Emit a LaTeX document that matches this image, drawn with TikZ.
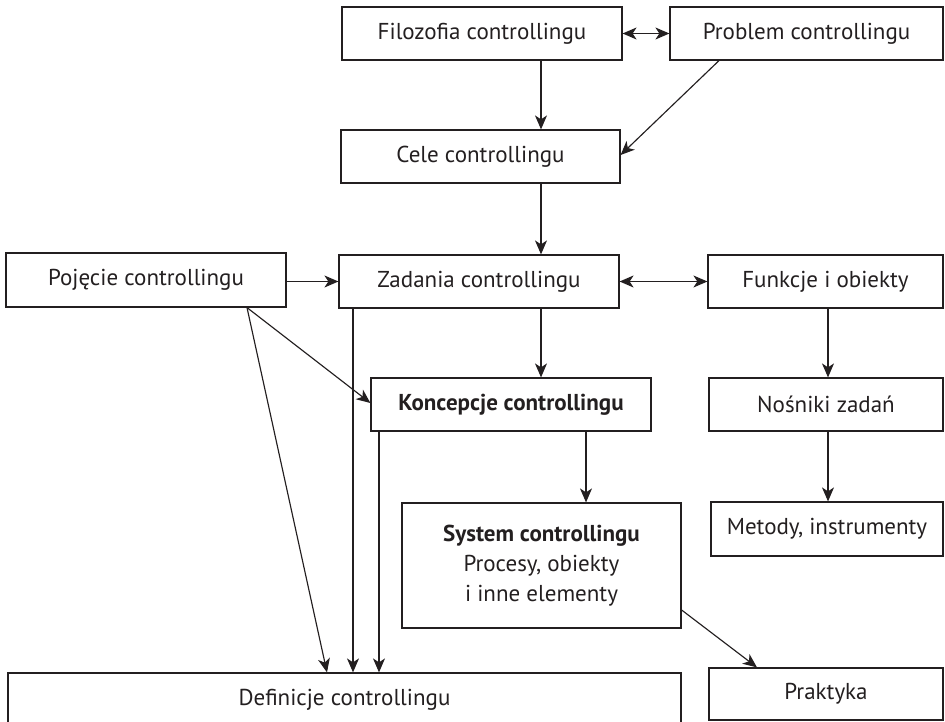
\documentclass[tikz,border=0pt]{standalone}
\usepackage{fontspec}
\setmainfont{PT Sans}
\usetikzlibrary{arrows.meta,calc}
\definecolor{ink}{HTML}{231F20}
\tikzset{
  box/.style={draw=ink, line width=1.2pt, inner sep=0pt, text=ink,
    font=\fontsize{23}{30}\selectfont, align=center},
  arr/.style={draw=ink, line width=1.15pt, -{Stealth[length=14pt,width=12pt,inset=4pt]}},
  darr/.style={draw=ink, line width=1.15pt,
    {Stealth[length=14pt,width=12pt,inset=4pt]}-{Stealth[length=14pt,width=12pt,inset=4pt]}},
}
\begin{document}
\begin{tikzpicture}[x=1pt,y=-1pt]
\useasboundingbox (0,0) rectangle (945,722);

% boxes
\node[box, minimum width=280, minimum height=53] (filo) at (482,33.5) {Filozofia controllingu};
\node[box, minimum width=273, minimum height=53] (prob) at (806.5,33.5) {Problem controllingu};
\node[box, minimum width=279, minimum height=53] (cele) at (480.5,156.5) {Cele controllingu};
\node[box, minimum width=280, minimum height=54] (poj) at (146,280) {Pojęcie controllingu};
\node[box, minimum width=280, minimum height=53] (zad) at (479,281.5) {Zadania controllingu};
\node[box, minimum width=235, minimum height=53] (funk) at (825.5,281.5) {Funkcje i obiekty};
\node[box, minimum width=280, minimum height=53] (konc) at (511,404.5) {\bfseries Koncepcje controllingu};
\node[box, minimum width=234, minimum height=53] (nos) at (826,404.5) {Nośniki zadań};
\node[box, minimum width=279, minimum height=125] (sys) at (541.5,565.5) {\textbf{System controllingu}\\Procesy, obiekty\\i inne elementy};
\node[box, minimum width=232, minimum height=54] (met) at (827,529) {Metody, instrumenty};
\node[box, minimum width=673, minimum height=54] (def) at (344.5,700) {Definicje controllingu};
\node[box, minimum width=234, minimum height=52] (prak) at (826,694) {Praktyka};

% connector columns
\coordinate (colA) at (541,0);
\coordinate (colB) at (828,0);
\coordinate (colC) at (353,0);
\coordinate (colD) at (379,0);
\coordinate (colE) at (586,0);

% connectors
\draw[darr] (filo.east) -- (prob.west);
\draw[arr] (filo.south -| colA) -- (cele.north -| colA);
\draw[arr] ([xshift=-87.5pt]prob.south) -- ([yshift=1.5pt]cele.east);
\draw[arr] (cele.south -| colA) -- (zad.north -| colA);
\draw[arr] (poj.east |- zad.west) -- (zad.west);
\draw[darr] (zad.east) -- (funk.west);
\draw[arr] (zad.south -| colA) -- (konc.north -| colA);
\draw[arr] (funk.south -| colB) -- (nos.north -| colB);
\draw[arr] (nos.south -| colB) -- (met.north -| colB);
\draw[arr] ([xshift=101pt]poj.south) -- ([yshift=1.5pt]konc.west);
\draw[arr] ([xshift=101pt]poj.south) -- ([xshift=-17.5pt]def.north);
\draw[arr] (zad.south -| colC) -- (def.north -| colC);
\draw[arr] (konc.south -| colD) -- (def.north -| colD);
\draw[arr] (konc.south -| colE) -- (sys.north -| colE);
\draw[arr] ([yshift=-44.5pt]sys.east) -- ([xshift=-69pt]prak.north);
\end{tikzpicture}
\end{document}
